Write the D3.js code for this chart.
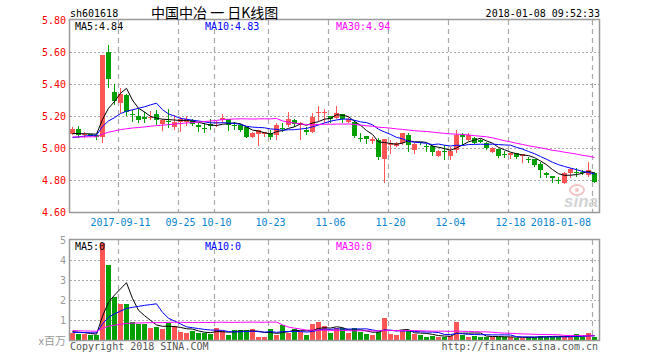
<!DOCTYPE html>
<html><head><meta charset="utf-8">
<script src="https://cdn.jsdelivr.net/npm/d3@7"></script>
<style>body{margin:0;background:#fff}svg{display:block}</style>
</head><body><svg id="c" width="660" height="360"></svg>
<script>
const dates = ["08-30","08-31","09-01","09-04","09-05","09-06","09-07","09-08",
"09-11","09-12","09-13","09-14","09-15","09-18","09-19","09-20","09-21","09-22",
"09-25","09-26","09-27","09-28","09-29","10-09","10-10","10-11","10-12","10-13",
"10-16","10-17","10-18","10-19","10-20","10-23","10-24","10-25","10-26","10-27","10-30","10-31",
"11-01","11-02","11-03","11-06","11-07","11-08","11-09","11-10","11-13","11-14","11-15","11-16","11-17",
"11-20","11-21","11-22","11-23","11-24","11-27","11-28","11-29","11-30",
"12-01","12-04","12-05","12-06","12-07","12-08","12-11","12-12","12-13","12-14","12-15",
"12-18","12-19","12-20","12-21","12-22","12-25","12-26","12-27","12-28","12-29",
"01-02","01-03","01-04","01-05","01-08"];
const opens = [5.09,5.12,5.08,5.09,5.08,5.07,5.60,5.35,5.283,5.331,5.213,5.20,5.196,5.19,5.212,5.15,5.17,5.129,5.165,5.165,
5.175,5.144,5.125,5.15,5.16,5.175,5.179,5.146,5.144,5.129,5.067,5.09,5.085,5.092,5.081,5.128,5.144,5.175,5.144,5.112,
5.102,5.217,5.217,5.20,5.185,5.212,5.165,5.165,5.06,5.075,5.046,5.05,4.931,5.02,5.012,5.029,5.081,4.988,5.035,5.012,
5.012,4.952,4.983,4.952,4.988,5.08,5.05,5.06,5.05,5.033,4.973,4.992,4.96,4.956,4.967,4.95,4.932,4.929,4.90,4.846,
4.825,4.802,4.779,4.846,4.852,4.852,4.831,4.842];
const highs = [5.13,5.14,5.10,5.09,5.08,5.58,5.645,5.40,5.377,5.335,5.237,5.244,5.227,5.233,5.237,5.181,5.244,5.206,5.196,5.20,
5.18,5.154,5.154,5.179,5.17,5.212,5.18,5.165,5.15,5.133,5.10,5.115,5.102,5.112,5.158,5.154,5.223,5.179,5.16,5.133,
5.217,5.262,5.242,5.20,5.263,5.215,5.196,5.175,5.092,5.075,5.071,5.06,5.056,5.05,5.04,5.096,5.092,5.029,5.04,5.023,
5.019,4.988,5.019,5.008,5.112,5.096,5.096,5.07,5.055,5.04,5.004,4.992,4.983,4.971,4.967,4.965,4.942,4.929,4.915,4.852,
4.825,4.816,4.848,4.873,4.877,4.862,4.915,4.852];
const lows = [5.08,5.06,5.06,5.07,5.05,5.03,5.377,5.27,5.221,5.20,5.165,5.158,5.154,5.175,5.144,5.108,5.123,5.112,5.102,5.138,
5.138,5.098,5.096,5.112,5.13,5.154,5.108,5.112,5.10,5.06,5.06,5.01,5.07,5.05,5.05,5.102,5.133,5.133,5.05,5.081,
5.096,5.17,5.154,5.154,5.18,5.154,5.154,5.06,5.035,5.025,5.023,4.925,4.78,4.96,5.004,5.019,4.973,4.96,5.02,4.977,
4.95,4.946,4.925,4.925,4.971,5.02,5.045,5.025,5.03,4.987,4.967,4.935,4.935,4.929,4.929,4.904,4.908,4.883,4.81,4.81,
4.779,4.775,4.773,4.81,4.817,4.831,4.821,4.779];
const closes = [5.12,5.08,5.085,5.077,5.07,5.58,5.43,5.294,5.335,5.227,5.21,5.175,5.179,5.196,5.175,5.175,5.163,5.165,5.181,5.18,
5.148,5.129,5.12,5.14,5.165,5.19,5.144,5.144,5.113,5.067,5.092,5.11,5.098,5.067,5.144,5.125,5.179,5.148,5.158,5.102,
5.192,5.225,5.225,5.18,5.217,5.179,5.179,5.077,5.058,5.054,5.056,4.946,5.056,5.03,5.029,5.092,5.019,5.023,5.03,5.01,
4.977,4.983,4.98,4.981,5.081,5.07,5.081,5.033,5.04,4.998,4.998,4.95,4.958,4.967,4.946,4.962,4.93,4.894,4.862,4.831,
4.81,4.80,4.842,4.867,4.85,4.85,4.862,4.79];
const volumes = [0.35,0.3,0.3,0.25,0.25,4.85,3.75,2.13,1.8,1.8,0.9,0.8,0.8,0.6,0.67,0.55,0.83,0.7,0.4,0.33,
0.47,0.37,0.37,0.3,0.6,0.43,0.25,0.5,0.5,0.5,0.53,0.17,0.17,0.53,0.25,0.75,0.37,0.53,0.42,0.25,
0.8,0.9,0.7,0.33,0.58,0.58,0.37,0.6,0.42,0.3,0.25,0.4,1.12,0.3,0.25,0.47,0.47,0.3,0.25,0.17,
0.22,0.17,0.17,0.2,0.92,0.25,0.17,0.22,0.17,0.17,0.13,0.17,0.17,0.13,0.12,0.08,0.17,0.17,0.22,0.17,
0.17,0.17,0.17,0.17,0.3,0.13,0.37,0.17];
const prevCloses = [5.07,5.08,5.06,5.07,5.08,5.07,5.06,5.08,5.07,5.07,5.08,5.07,5.06,5.07,5.08,5.07,5.07,5.08,5.06,5.07,
5.04,5.03,5.04,5.05,5.04,5.08,5.09,5.08,5.08];
const prevVolumes = [0.5,0.55,0.48,0.52,0.5,0.53,0.49,0.51,0.5,0.52,0.55,0.5,0.48,0.53,0.52,0.5,0.51,0.54,0.5,0.52,
0.34,0.33,0.35,0.34,0.34,0.45,0.43,0.44,0.44];
const priceTicks = [5.80,5.60,5.40,5.20,5.00,4.80,4.60];
const volTicks = [1,2,3,4,5];
const dateTicks = ["09-11","09-25","10-10","10-23","11-06","11-20","12-04","12-18","01-08"];
const dateTickLabels = ["2017-09-11","09-25","10-10","10-23","11-06","11-20","12-04","12-18","2018-01-08"];
const priceMaLabels = ["MA5:4.84","MA10:4.83","MA30:4.94"];
const volMaLabels = ["MA5:0","MA10:0","MA30:0"];
const maPeriods = [5,10,30];
const maColors = ["#000000","#0000ff","#ff00ff"];

const RED = "#ff5555", GREEN = "#00a000";
const MONO = "'DejaVu Sans Mono', 'Liberation Mono', monospace";
const svg = d3.select("#c");
svg.append("rect").attr("width",660).attr("height",360).attr("fill","#fff");

const L = 70, R = 598;
const x = d3.scaleBand().domain(dates).range([L, R]).paddingInner(1/6).paddingOuter(1/12);
const yP = d3.scaleLinear().domain([4.6, 5.8]).range([212, 20]);
const yV = d3.scaleLinear().domain([0, 5]).range([340, 240]);
const bx = d => Math.floor(x(d));
const cx = d => Math.floor(x(d)) + 2.5;
const gx = d => Math.floor(x(d)) + 0.5;

function ma(prev, cur, n) {
  const all = prev.concat(cur);
  return cur.map((_, i) => {
    const j = prev.length + i;
    let s = 0;
    for (let k = j - n + 1; k <= j; k++) s += all[k];
    return s / n;
  });
}

// grids
const grid = svg.append("g");
priceTicks.slice(1, -1).forEach(t => {
  grid.append("line").attr("x1", L).attr("x2", R + 1).attr("y1", Math.round(yP(t)) + 0.5).attr("y2", Math.round(yP(t)) + 0.5)
    .attr("stroke", "#aaa").attr("stroke-dasharray", "2,2");
});
volTicks.slice(0, -1).forEach(t => {
  grid.append("line").attr("x1", L).attr("x2", R + 1).attr("y1", Math.round(yV(t)) + 0.5).attr("y2", Math.round(yV(t)) + 0.5)
    .attr("stroke", "#aaa").attr("stroke-dasharray", "2,2");
});
dateTicks.forEach(d => {
  [[20, 212], [240, 340]].forEach(([a, b]) => {
    grid.append("line").attr("x1", gx(d)).attr("x2", gx(d)).attr("y1", a).attr("y2", b)
      .attr("stroke", "#aaa").attr("stroke-width", 1.2).attr("stroke-dasharray", "5,4");
  });
});

// watermark
const wm = svg.append("g");
wm.append("ellipse").attr("cx", 577).attr("cy", 190).attr("rx", 7).attr("ry", 5).attr("fill", "none").attr("stroke", "#f3c4c4").attr("stroke-width", 2);
wm.append("circle").attr("cx", 577).attr("cy", 190).attr("r", 2).attr("fill", "#f3c4c4");
wm.append("text").attr("x", 598).attr("y", 207).attr("text-anchor", "end")
  .attr("font-family", "'Liberation Sans', Arial, sans-serif").attr("font-size", 17).attr("font-weight", "bold").attr("font-style", "italic")
  .attr("fill", "#d4d4d4").text("sina");

// candles
const cg = svg.append("g").attr("shape-rendering", "crispEdges");
dates.forEach((d, i) => {
  const o = opens[i], c = closes[i], h = highs[i], l = lows[i];
  const col = c >= o ? RED : GREEN;
  cg.append("line").attr("x1", cx(d)).attr("x2", cx(d)).attr("y1", Math.round(yP(h))).attr("y2", Math.round(yP(l)))
    .attr("stroke", col);
  const top = Math.round(yP(Math.max(o, c))), bot = Math.round(yP(Math.min(o, c)));
  cg.append("rect").attr("x", bx(d)).attr("y", top).attr("width", 5).attr("height", Math.max(1, bot - top)).attr("fill", col);
});

// volume bars
const vg = svg.append("g").attr("shape-rendering", "crispEdges");
dates.forEach((d, i) => {
  const col = closes[i] >= opens[i] ? RED : GREEN;
  const t = Math.round(yV(volumes[i]));
  vg.append("rect").attr("x", bx(d)).attr("y", t).attr("width", 5).attr("height", 340 - t).attr("fill", col);
});

// MA lines
maPeriods.forEach((n, k) => {
  const mp = ma(prevCloses, closes, n);
  const lineP = d3.line().x((v, i) => cx(dates[i])).y(v => yP(v));
  svg.append("path").attr("d", lineP(mp)).attr("fill", "none").attr("stroke", maColors[k]).attr("stroke-width", 1);
  const mv = ma(prevVolumes, volumes, n);
  const lineV = d3.line().x((v, i) => cx(dates[i])).y(v => yV(v));
  svg.append("path").attr("d", lineV(mv)).attr("fill", "none").attr("stroke", maColors[k]).attr("stroke-width", 1);
});

// borders
[[20, 212], [240, 340]].forEach(([a, b]) => {
  svg.append("rect").attr("x", L - 0.5).attr("y", a - 0.5).attr("width", R - L + 2).attr("height", b - a + 1)
    .attr("fill", "none").attr("stroke", "#999").attr("stroke-width", 1.5);
});

// texts
const tx = (xx, yy, s, opt = {}) => svg.append("text").attr("x", xx).attr("y", yy)
  .attr("font-family", opt.font || MONO).attr("font-size", opt.size || 10)
  .attr("fill", opt.fill || "#000").attr("text-anchor", opt.anchor || "start").text(s);

tx(70, 17, "sh601618");
tx(151, 18, "中国中冶 一 日K线图", {font: "'Noto Sans CJK SC', sans-serif", size: 14});
tx(600, 17, "2018-01-08 09:52:33", {anchor: "end"});

const maX = [75, 205, 336];
priceMaLabels.forEach((s, k) => tx(maX[k], 30, s, {fill: maColors[k]}));
volMaLabels.forEach((s, k) => tx(maX[k], 250, s, {fill: maColors[k]}));

priceTicks.forEach(t => tx(66, yP(t) + 3.5, t.toFixed(2), {anchor: "end", fill: "#ff0000"}));
volTicks.forEach(t => tx(66, yV(t) + 3.5, String(t), {anchor: "end", fill: "#999"}));
tx(66, 345, "x百万", {anchor: "end", fill: "#999", font: "'Noto Sans CJK SC', sans-serif", size: 11});

dateTicks.forEach((d, k) => {
  const s = dateTickLabels[k];
  const w = s.length * 6.02;
  let xx = cx(d), anchor = "middle";
  if (xx + w / 2 > R - 6) { xx = R - 7; anchor = "end"; }
  tx(xx, 226, s, {anchor, fill: "#0a84d0"});
});

tx(70, 350, "Copyright 2018 SINA.COM", {fill: "#555"});
tx(598, 350, "http://finance.sina.com.cn", {anchor: "end", fill: "#555"});
</script></body></html>
